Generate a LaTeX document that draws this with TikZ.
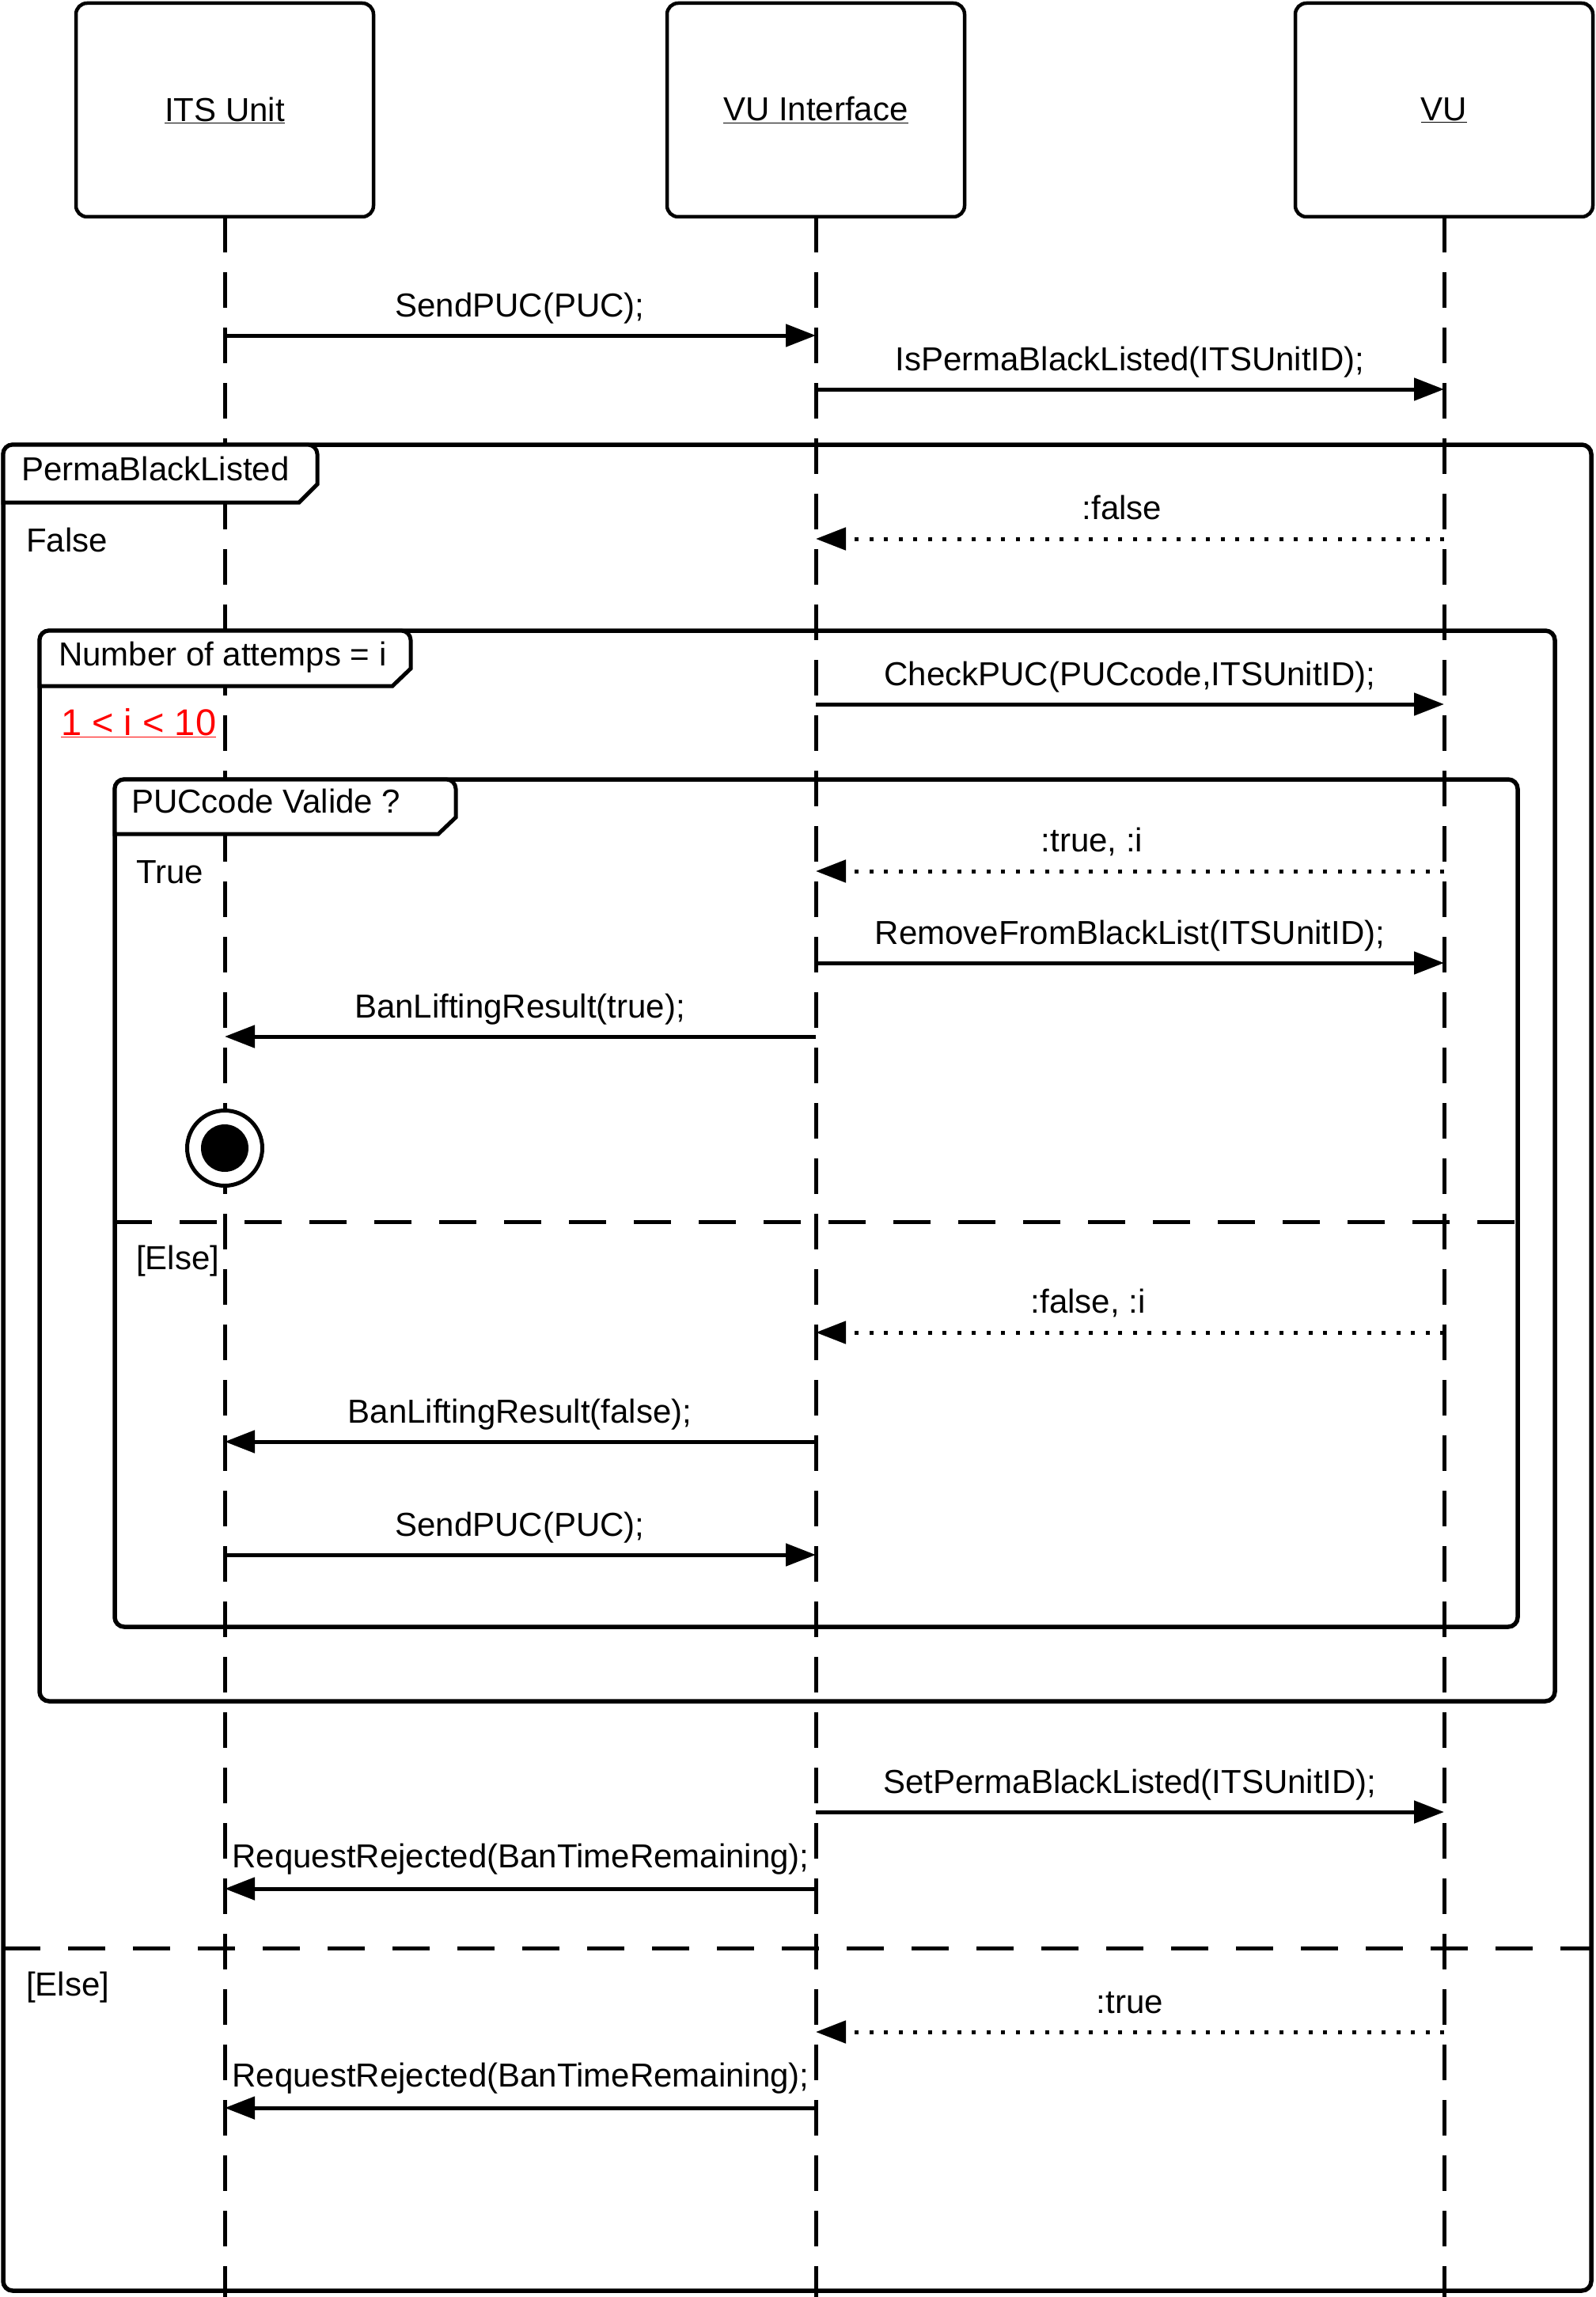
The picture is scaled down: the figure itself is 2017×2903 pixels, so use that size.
\documentclass[tikz,border=0pt]{standalone}
\usepackage{fontspec}
\setmainfont{Liberation Sans}
\usetikzlibrary{arrows.meta}
\begin{document}
\begin{tikzpicture}[x=1pt,y=-1pt,
  every node/.style={font=\fontsize{42}{48}\selectfont, inner sep=0pt},
  lifebox/.style={draw, line width=4.5pt, rounded corners=14pt, minimum width=376pt, minimum height=270pt, fill=white},
  lifeline/.style={line width=5pt, dash pattern=on 45pt off 25pt},
  frameline/.style={draw, line width=5.5pt, rounded corners=12pt},
  tabshape/.style={draw, line width=5pt, fill=white},
  callarrow/.style={line width=5pt, -{Triangle[length=38pt,width=28pt]}},
  retarrow/.style={line width=5pt, dash pattern=on 5pt off 13.5pt, -{Triangle[length=38pt,width=28pt]}},
  lbl/.style={anchor=base},
  guard/.style={anchor=west},
  sepline/.style={line width=5pt, dash pattern=on 47pt off 35pt},
]
\useasboundingbox (0,0) rectangle (2017,2903);
\fill[white] (0,0) rectangle (2017,2903);

% frames (outlines)
\draw[frameline] (4,562) rectangle (2011,2895);
\draw[frameline] (50,797) rectangle (1965,2150);
\draw[frameline] (145,985) rectangle (1918,2056);
% separators
\coordinate (s1a) at (145,1544); \coordinate (s1b) at (1918,1544);
\draw[sepline] (s1a) -- (s1b);
\coordinate (s2a) at (4,2462); \coordinate (s2b) at (2011,2462);
\draw[sepline] (s2a) -- (s2b);

% lifelines
\coordinate (l1top) at (284,274); \coordinate (l1end) at (284,2903);
\coordinate (l2top) at (1031,274); \coordinate (l2end) at (1031,2903);
\coordinate (l3top) at (1825,274); \coordinate (l3end) at (1825,2903);
\draw[lifeline] (l1top) -- (l1end);
\draw[lifeline] (l2top) -- (l2end);
\draw[lifeline] (l3top) -- (l3end);

% lifeline heads
\node[lifebox] (its) at (284,139) {\underline{ITS Unit}};
\node[lifebox] (vui) at (1031,139) {\underline{VU Interface}};
\node[lifebox] (vu) at (1825,139) {\underline{VU}};

% tabs
\draw[tabshape] (4,635) [rounded corners=12pt] -- (4,562) -- (401,562) [sharp corners] -- (401,612) -- (378,635) -- cycle;
\node[anchor=base west] (t1) at (27,607) {PermaBlackListed};
\draw[tabshape] (50,867) [rounded corners=12pt] -- (50,797) -- (519,797) [sharp corners] -- (519,845) -- (496,867) -- cycle;
\node[anchor=base west] (t2) at (74,841) {Number of attemps = i};
\draw[tabshape] (145,1054) [rounded corners=12pt] -- (145,985) -- (576,985) [sharp corners] -- (576,1033) -- (554,1054) -- cycle;
\node[anchor=base west] (t3) at (166,1027) {PUCcode Valide ?};

% guards
\node[guard] (g1) at (33,682) {False};
\node[anchor=base west, text=red, font=\fontsize{47}{52}\selectfont] (g2) at (77,929) {\underline{1 < i < 10}};
\node[guard] (g3) at (172,1102) {True};
\node[guard] (g4) at (172,1594) {[Else]};
\node[guard] (g5) at (33,2512) {[Else]};

% messages
\coordinate (m1a) at (284,424); \coordinate (m1b) at (1031,424);
\draw[callarrow] (m1a) -- (m1b);
\node[lbl] (m1) at (657,400) {SendPUC(PUC);};

\coordinate (m2a) at (1031,492); \coordinate (m2b) at (1825,492);
\draw[callarrow] (m2a) -- (m2b);
\node[lbl] (m2) at (1428,468) {IsPermaBlackListed(ITSUnitID);};

\coordinate (m3a) at (1825,681); \coordinate (m3b) at (1031,681);
\draw[retarrow] (m3a) -- (m3b);
\node[lbl] (m3) at (1418,656) {:false};

\coordinate (m4a) at (1031,890); \coordinate (m4b) at (1825,890);
\draw[callarrow] (m4a) -- (m4b);
\node[lbl] (m4) at (1428,866) {CheckPUC(PUCcode,ITSUnitID);};

\coordinate (m5a) at (1825,1101); \coordinate (m5b) at (1031,1101);
\draw[retarrow] (m5a) -- (m5b);
\node[lbl] (m5) at (1380,1076) {:true, :i};

\coordinate (m6a) at (1031,1217); \coordinate (m6b) at (1825,1217);
\draw[callarrow] (m6a) -- (m6b);
\node[lbl] (m6) at (1428,1193) {RemoveFromBlackList(ITSUnitID);};

\coordinate (m7a) at (1031,1310); \coordinate (m7b) at (284,1310);
\draw[callarrow] (m7a) -- (m7b);
\node[lbl] (m7) at (657,1286) {BanLiftingResult(true);};

\coordinate (m8a) at (1825,1684); \coordinate (m8b) at (1031,1684);
\draw[retarrow] (m8a) -- (m8b);
\node[lbl] (m8) at (1375,1659) {:false, :i};

\coordinate (m9a) at (1031,1822); \coordinate (m9b) at (284,1822);
\draw[callarrow] (m9a) -- (m9b);
\node[lbl] (m9) at (657,1798) {BanLiftingResult(false);};

\coordinate (m10a) at (284,1965); \coordinate (m10b) at (1031,1965);
\draw[callarrow] (m10a) -- (m10b);
\node[lbl] (m10) at (657,1941) {SendPUC(PUC);};

\coordinate (m11a) at (1031,2290); \coordinate (m11b) at (1825,2290);
\draw[callarrow] (m11a) -- (m11b);
\node[lbl] (m11) at (1428,2266) {SetPermaBlackListed(ITSUnitID);};

\coordinate (m12a) at (1031,2387); \coordinate (m12b) at (284,2387);
\draw[callarrow] (m12a) -- (m12b);
\node[lbl] (m12) at (658,2360) {RequestRejected(BanTimeRemaining);};

\coordinate (m13a) at (1825,2568); \coordinate (m13b) at (1031,2568);
\draw[retarrow] (m13a) -- (m13b);
\node[lbl] (m13) at (1428,2544) {:true};

\coordinate (m14a) at (1031,2664); \coordinate (m14b) at (284,2664);
\draw[callarrow] (m14a) -- (m14b);
\node[lbl] (m14) at (658,2637) {RequestRejected(BanTimeRemaining);};

% final state
\node[circle, draw, line width=5pt, fill=white, minimum size=95pt] (fin) at (284,1451) {};
\node[circle, fill=black, minimum size=60pt] (finin) at (fin.center) {};
\end{tikzpicture}
\end{document}
